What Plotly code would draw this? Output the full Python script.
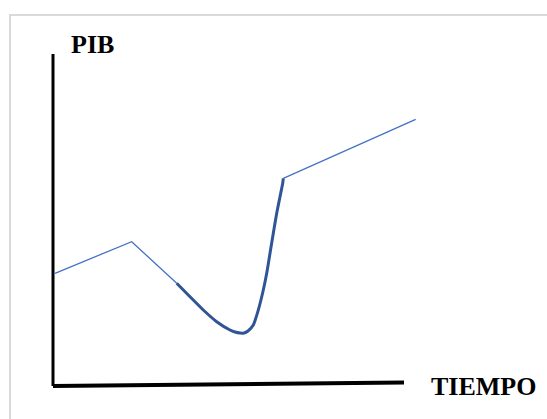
import plotly.graph_objects as go

# Data (time units along the horizontal axis, GDP units along the vertical axis)
tiempo_tramo1 = [0.2, 7.87, 12.37]
pib_tramo1 = [11.17, 14.33, 10.17]

tiempo_crisis = [12.37, 13.7, 15.03, 16.37, 17.7, 18.2, 18.7, 19.1, 19.5, 20.03, 20.53, 21.03,
                 21.37, 21.7, 22.03, 22.37, 22.7, 22.97, 23.03]
pib_crisis = [10.17, 8.83, 7.5, 6.33, 5.5, 5.3, 5.2, 5.2, 5.4, 6.0, 7.5, 9.5,
              11.17, 13.17, 15.17, 17.17, 18.83, 20.17, 20.67]

tiempo_tramo2 = [23.03, 36.27]
pib_tramo2 = [20.67, 26.57]

eje_x_fin = 35.1
eje_y_fin = 33.1

W, H = 547, 419

fig = go.Figure()

fig.add_trace(go.Scatter(x=tiempo_tramo1, y=pib_tramo1, mode="lines",
                         line=dict(color="#4472C4", width=1.3), hoverinfo="skip"))
fig.add_trace(go.Scatter(x=tiempo_tramo2, y=pib_tramo2, mode="lines",
                         line=dict(color="#4472C4", width=1.3), hoverinfo="skip"))
fig.add_trace(go.Scatter(x=tiempo_crisis, y=pib_crisis, mode="lines",
                         line=dict(color="#2F5597", width=3, shape="spline", smoothing=0.6),
                         hoverinfo="skip"))

# Axis lines
fig.add_shape(type="line", xref="x", yref="y", x0=0, y0=-0.1, x1=0, y1=eje_y_fin,
              line=dict(color="black", width=3))
fig.add_shape(type="line", xref="x", yref="y", x0=0, y0=-0.1, x1=eje_x_fin, y1=0.25,
              line=dict(color="black", width=4))

# Frame border
fig.add_shape(type="rect", xref="paper", yref="paper",
              x0=10 / W, y0=-0.05, x1=1.05, y1=1 - 15 / H,
              line=dict(color="#D9D9D9", width=2), fillcolor="rgba(0,0,0,0)", layer="below")

font = dict(family="Liberation Serif, Times New Roman, serif", size=26, color="black")
fig.add_annotation(x=1.6, y=34.1, xref="x", yref="y", text="<b>PIB</b>", showarrow=False,
                   xanchor="left", yanchor="middle", font=font)
fig.add_annotation(x=37.6, y=-0.15, xref="x", yref="y", text="<b>TIEMPO</b>", showarrow=False,
                   xanchor="left", yanchor="middle", font=font)

fig.update_layout(
    width=W, height=H, autosize=False,
    margin=dict(l=0, r=0, t=0, b=0),
    paper_bgcolor="white", plot_bgcolor="white",
    showlegend=False,
    xaxis=dict(range=[-5.3, 49.4], visible=False, fixedrange=True),
    yaxis=dict(range=[-3.4, 38.5], visible=False, fixedrange=True),
)

fig.write_html(
    "out.html",
    config={"displayModeBar": False},
    post_script="document.body.style.margin='0';document.body.style.overflow='hidden';",
)
